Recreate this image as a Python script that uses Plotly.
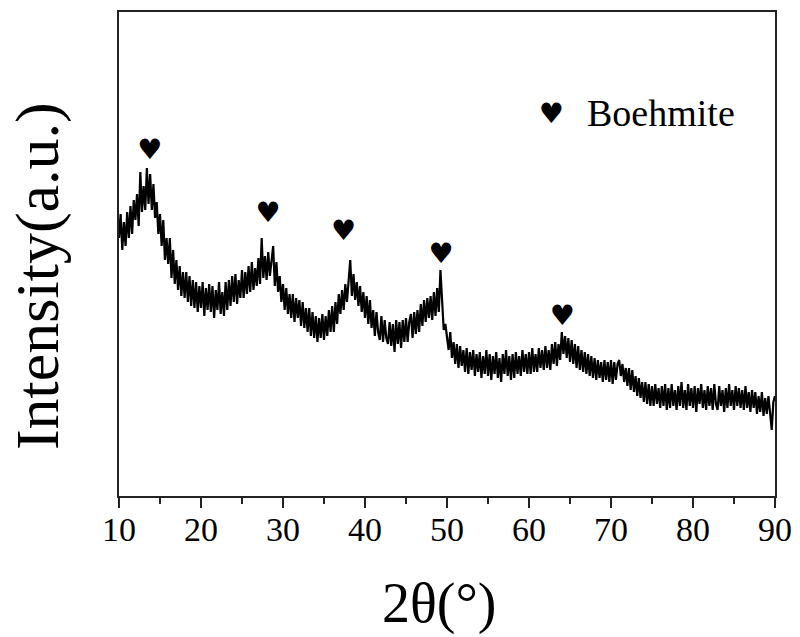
import plotly.graph_objects as go

# 2-theta grid: 10.0 .. 90.0 in 0.2 degree steps
two_theta = [round(10 + 0.2 * i, 1) for i in range(401)]

intensity = [
    258, 282, 246, 274, 250,
    284, 258, 290, 262, 296,
    276, 302, 270, 324, 284,
    310, 286, 328, 292, 322,
    286, 312, 278, 294, 262,
    282, 250, 276, 236, 258,
    232, 258, 218, 246, 212,
    236, 206, 230, 200, 224,
    198, 224, 194, 220, 190,
    216, 188, 214, 184, 210,
    188, 214, 180, 208, 186,
    212, 184, 210, 178, 206,
    186, 214, 182, 204, 180,
    214, 186, 216, 190, 220,
    194, 222, 192, 216, 198,
    226, 198, 224, 202, 230,
    204, 234, 206, 228, 210,
    238, 212, 258, 218, 240,
    216, 244, 220, 236, 250,
    210, 234, 204, 220, 194,
    212, 186, 208, 182, 202,
    178, 202, 174, 198, 178,
    196, 170, 194, 168, 188,
    164, 188, 160, 184, 158,
    180, 154, 178, 158, 182,
    156, 180, 160, 186, 164,
    190, 164, 194, 172, 202,
    182, 206, 186, 212, 194,
    220, 236, 200, 222, 196,
    214, 190, 210, 184, 204,
    178, 200, 172, 196, 168,
    186, 160, 184, 164, 156,
    180, 154, 176, 158, 152,
    174, 150, 172, 144, 176,
    152, 174, 148, 176, 154,
    178, 154, 174, 182, 158,
    184, 162, 186, 164, 192,
    170, 196, 174, 198, 178,
    200, 176, 204, 180, 208,
    184, 226, 200, 166, 172,
    156, 146, 164, 138, 154,
    132, 152, 128, 150, 130,
    146, 124, 148, 122, 144,
    126, 146, 120, 142, 124,
    144, 118, 140, 122, 146,
    120, 142, 116, 140, 122,
    144, 118, 138, 114, 142,
    122, 146, 120, 140, 116,
    142, 118, 144, 122, 140,
    120, 146, 124, 142, 122,
    144, 122, 148, 124, 142,
    124, 148, 128, 146, 126,
    150, 128, 146, 126, 152,
    132, 154, 130, 152, 136,
    164, 142, 160, 138, 158,
    134, 156, 132, 152, 128,
    150, 126, 146, 124, 144,
    122, 142, 120, 140, 118,
    138, 116, 136, 118, 134,
    114, 136, 116, 134, 114,
    136, 112, 134, 116, 132,
    136, 120, 132, 114, 128,
    110, 128, 106, 126, 104,
    120, 100, 118, 98, 114,
    94, 114, 92, 112, 90,
    110, 90, 112, 92, 108,
    88, 110, 90, 112, 86,
    108, 88, 112, 90, 106,
    86, 110, 90, 114, 88,
    106, 86, 112, 90, 108,
    88, 110, 84, 108, 92,
    112, 88, 106, 86, 110,
    90, 108, 86, 112, 92,
    86, 110, 90, 106, 84,
    108, 88, 112, 90, 106,
    86, 110, 90, 108, 88,
    106, 86, 110, 88, 104,
    84, 106, 88, 104, 82,
    100, 84, 104, 80, 98,
    82, 100, 78, 66, 94,
    100,
]

# Boehmite peak markers (2theta, marker height)
peak_x = [13.8, 28.2, 37.4, 49.3, 64.1]
peak_y = [344, 281, 263, 240, 178]

x_ticks = [10, 20, 30, 40, 50, 60, 70, 80, 90]
legend_label = "Boehmite"
x_title = "2θ(°)"
y_title = "Intensity(a.u.)"

SERIF = "Liberation Serif, Times New Roman, serif"

fig = go.Figure()
fig.add_trace(go.Scatter(
    x=two_theta, y=intensity, mode="lines",
    line=dict(color="black", width=2.2),
    showlegend=False, hoverinfo="skip",
))
fig.add_trace(go.Scatter(
    x=peak_x, y=peak_y, mode="text", text=["♥"] * len(peak_x),
    textfont=dict(size=28, color="black", family="DejaVu Sans"),
    textposition="middle center", showlegend=False, hoverinfo="skip",
))

annotations = [
    dict(x=0.660, y=0.791, xref="paper", yref="paper", text="♥",
         showarrow=False, font=dict(size=28, color="black", family="DejaVu Sans"),
         xanchor="center", yanchor="middle"),
    dict(x=0.7104, y=0.791, xref="paper", yref="paper", text=legend_label,
         showarrow=False, font=dict(size=38, color="black", family=SERIF),
         xanchor="left", yanchor="middle"),
    dict(x=-0.1250, y=0.4545, xref="paper", yref="paper", text=y_title,
         showarrow=False, textangle=-90, font=dict(size=62, color="black", family=SERIF),
         xanchor="center", yanchor="middle"),
    dict(x=0.489, y=-0.222, xref="paper", yref="paper", text=x_title,
         showarrow=False, font=dict(size=56, color="black", family=SERIF),
         xanchor="center", yanchor="middle"),
]
for t in x_ticks:
    annotations.append(dict(
        x=t, y=-0.069, xref="x", yref="paper", text=str(t), showarrow=False,
        font=dict(size=34, color="black", family=SERIF),
        xanchor="center", yanchor="middle",
    ))

fig.update_layout(
    width=800, height=637,
    margin=dict(l=119, r=25, t=12, b=141),
    paper_bgcolor="white", plot_bgcolor="white",
    annotations=annotations,
    hovermode=False,
    xaxis=dict(
        range=[10, 90], tickvals=x_ticks, showticklabels=False, automargin=False,
        ticks="outside", ticklen=10, tickwidth=2, tickcolor="#222",
        minor=dict(dtick=5, tick0=10, ticks="outside", ticklen=6, tickwidth=2, tickcolor="#222"),
        showline=True, linecolor="#222", linewidth=2, mirror=True,
        showgrid=False, zeroline=False,
    ),
    yaxis=dict(
        range=[0, 484], showticklabels=False, ticks="", automargin=False,
        showline=True, linecolor="#222", linewidth=2, mirror=True,
        showgrid=False, zeroline=False,
    ),
)

# remove the default page margin so the figure fills the 800x637 window
fig.write_html(
    "out.html",
    config={"displayModeBar": False},
    post_script="document.body.style.margin='0px';document.body.style.overflow='hidden';",
)
